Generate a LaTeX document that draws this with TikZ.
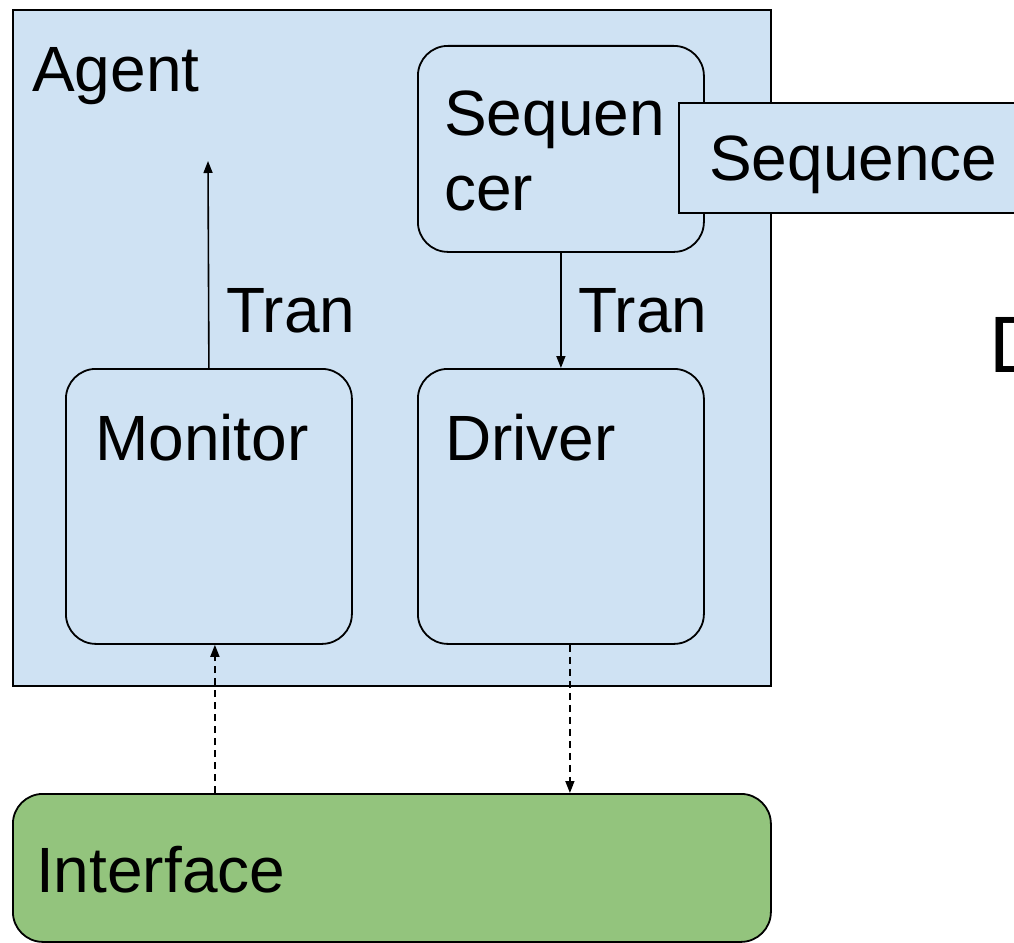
\documentclass[tikz,border=0pt]{standalone}
\usepackage{fontspec}
\setmainfont{Liberation Sans}
\usetikzlibrary{arrows.meta,positioning,calc}
\definecolor{agentB}{HTML}{CFE2F3}
\definecolor{ifaceG}{HTML}{93C47D}
\tikzset{
  blok/.style={rectangle, rounded corners=30pt, draw=black, line width=1.8pt, fill=#1,
               inner sep=0pt, anchor=north west},
  blok/.default=agentB,
  lbl/.style={anchor=base west, inner sep=0pt, font=\fontsize{64}{75}\selectfont},
  arr/.style={-{Triangle[length=12pt,width=9pt]}, line width=1.6pt},
  darr/.style={arr, dash pattern=on 7pt off 5pt},
}
\begin{document}
\begin{tikzpicture}[x=1pt,y=-1pt]
    \useasboundingbox (0,0) rectangle (1014,942);
    % agent and its parts
    \node[blok, rounded corners=0pt, minimum width=758pt, minimum height=676pt] (agent) at (12,9) {};
    \node[blok, minimum width=286pt, minimum height=206pt] (seqr) at (417,45) {};
    \node[blok, rounded corners=0pt, minimum width=352pt, minimum height=110pt] (seq) at (678,102) {};
    \node[blok, minimum width=286pt, minimum height=275pt] (mon) at (65,368) {};
    \node[blok, minimum width=286pt, minimum height=275pt] (drv) at (417,368) {};
    \node[blok=ifaceG, minimum width=758pt, minimum height=148pt] (iface) at (12,793) {};
    % texts
    \node[lbl] (agentT) at (32,91) {Agent};
    \node[lbl] (seqrA) at (444,135) {Sequen};
    \node[lbl] (seqrB) at (444,210) {cer};
    \node[lbl] (seqT) at (709,180) {Sequence};
    \node[lbl] (monT) at (95,460) {Monitor};
    \node[lbl] (drvT) at (445,460) {Driver};
    \node[lbl] (ifaceT) at (36,892) {Interface};
    \node[lbl] (tranA) at (226,332) {Tran};
    \node[lbl] (tranB) at (578,332) {Tran};
    \node[lbl, font=\fontsize{80}{90}\selectfont] (dT) at (989,372) {D};
    % connectors
    \coordinate (mtip) at (208,161);
    \coordinate (m1) at ([xshift=6pt]mon.south);
    \coordinate (d1) at ([xshift=9pt]drv.south);
    \draw[arr] (mon.north) -- (mtip);
    \draw[arr] (seqr.south) -- (drv.north);
    \draw[darr] (m1 |- iface.north) -- (m1);
    \draw[darr] (d1) -- (d1 |- iface.north);
\end{tikzpicture}
\end{document}
